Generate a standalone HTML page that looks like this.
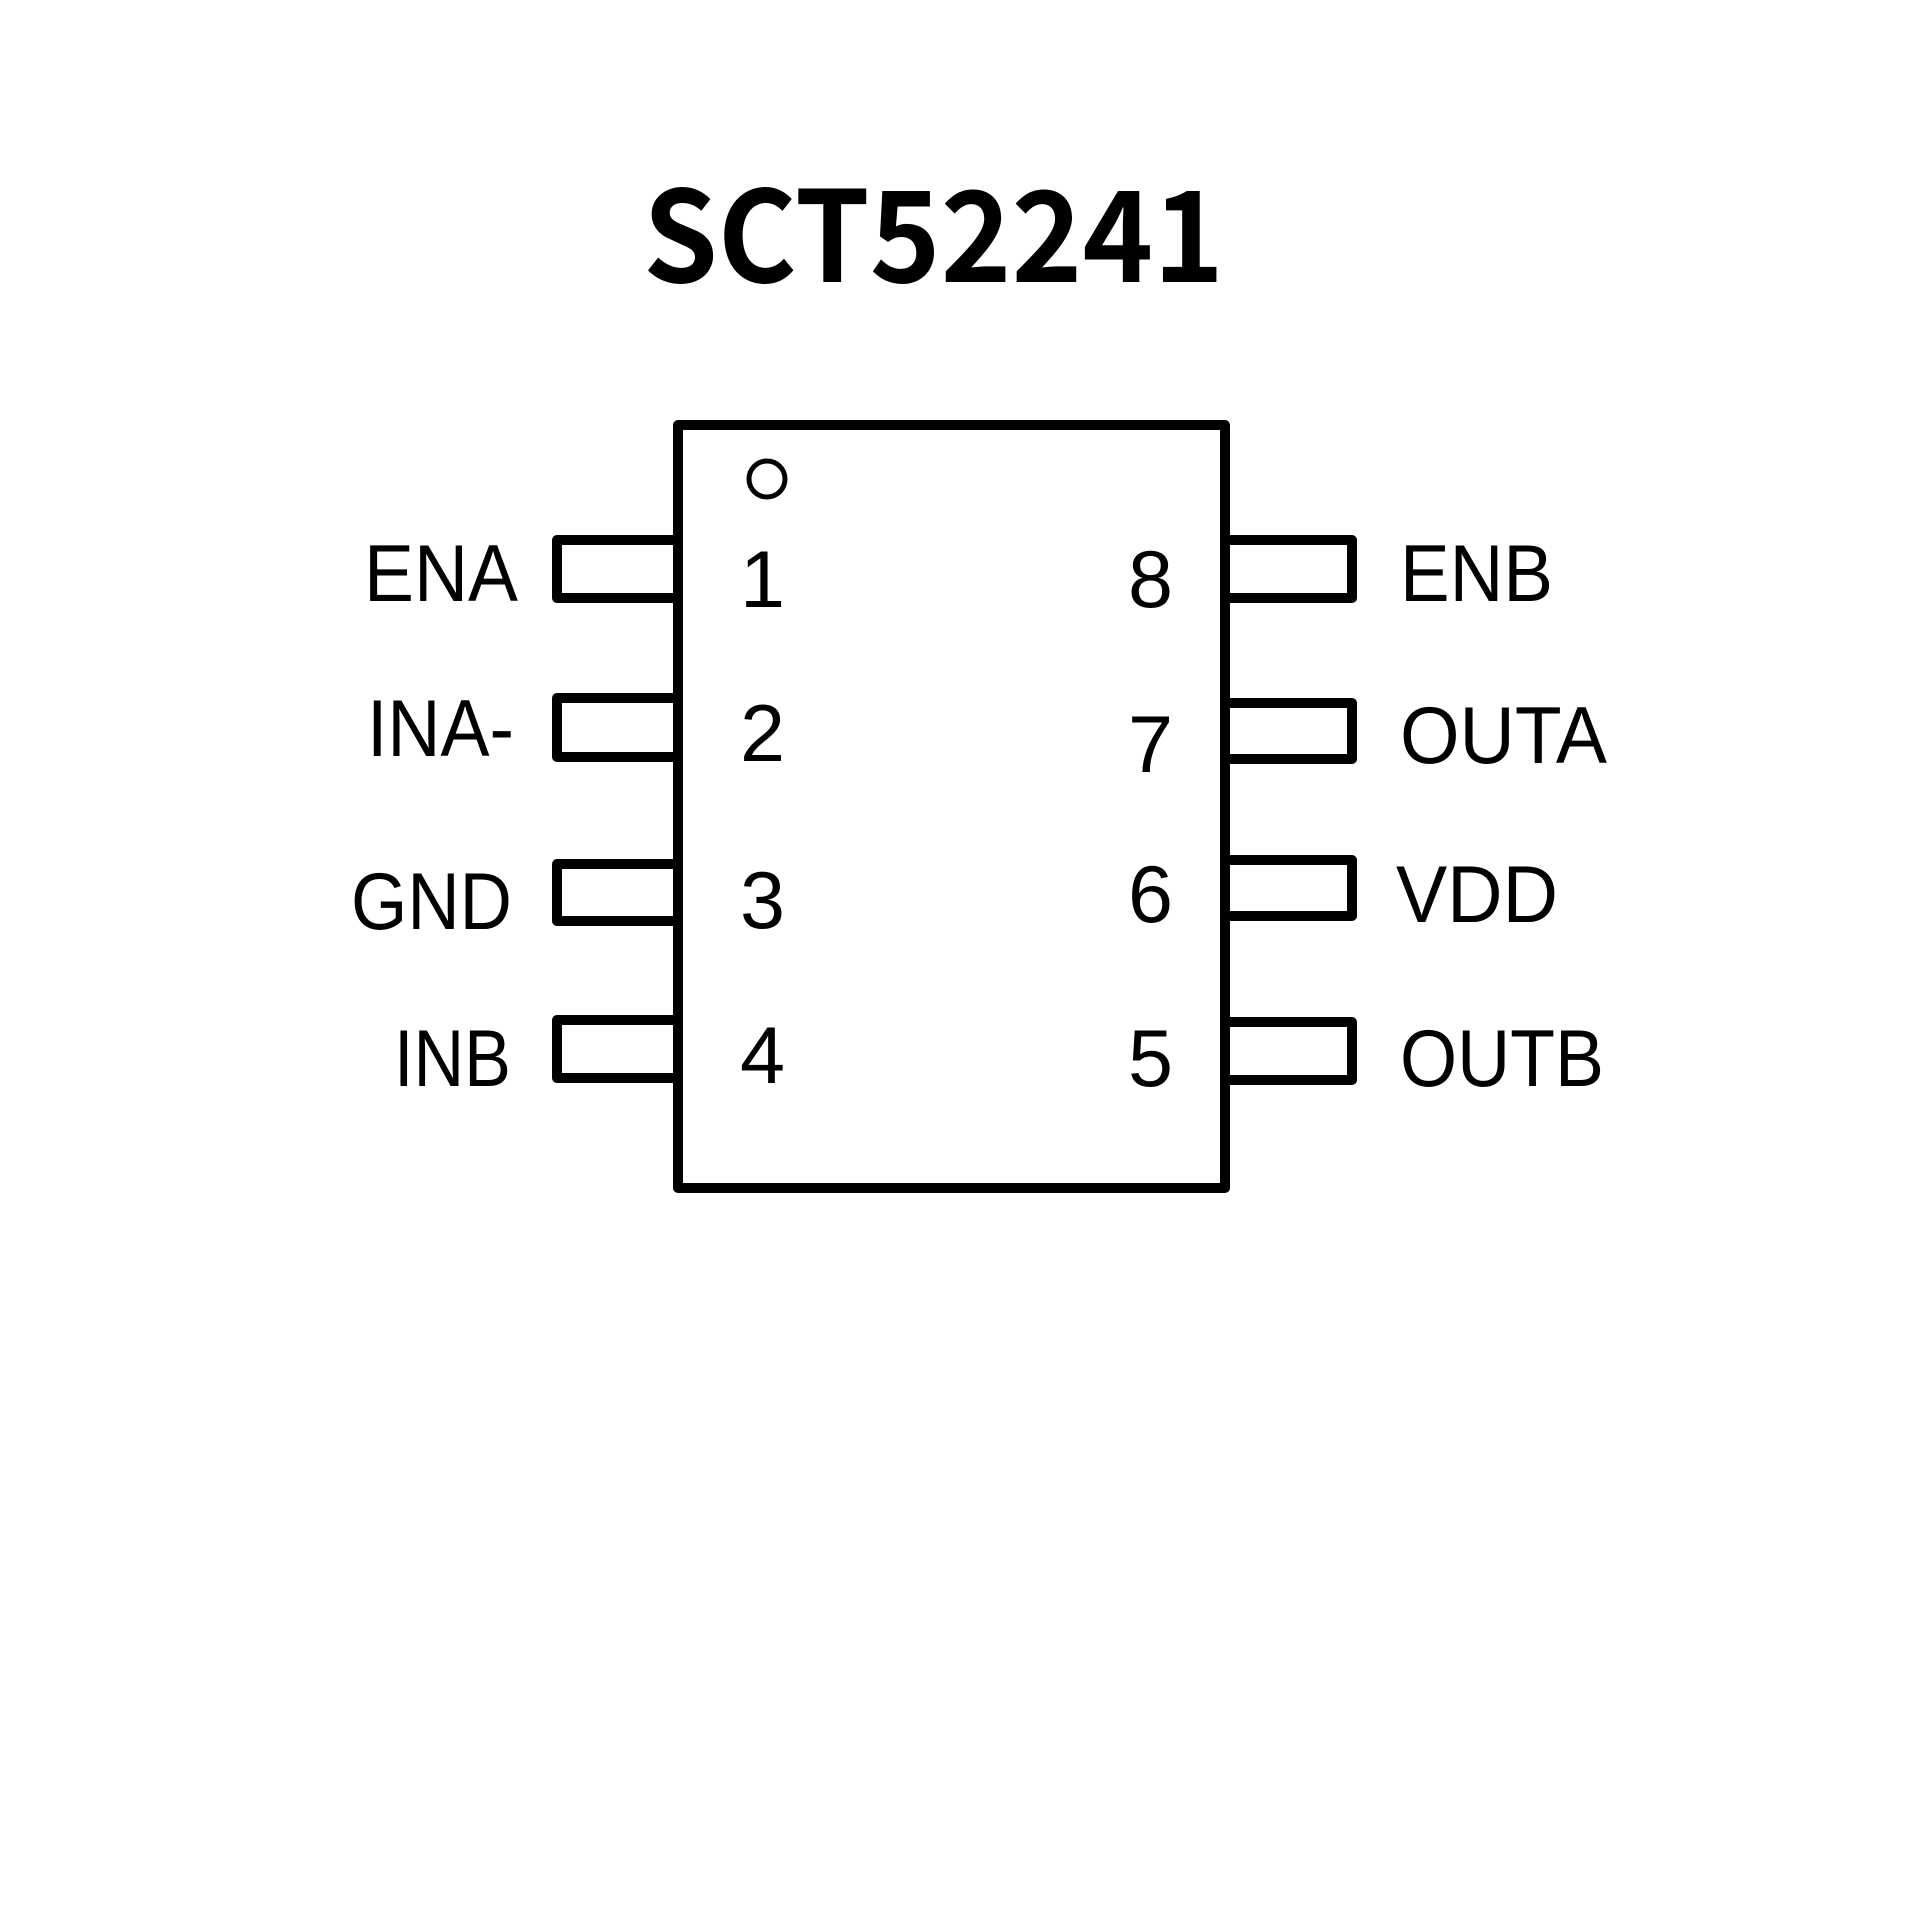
<!DOCTYPE html>
<html><head><meta charset="utf-8"><style>html,body{margin:0;padding:0;background:#fff}</style></head>
<body>
<svg width="1920" height="1920" xmlns="http://www.w3.org/2000/svg">
<rect width="1920" height="1920" fill="#fff"/>
<text x="643" y="282" font-family="Noto Sans CJK SC, DejaVu Sans, sans-serif" font-weight="bold" font-size="126" textLength="581" lengthAdjust="spacingAndGlyphs">SCT52241</text>
<g fill="none" stroke="#000" stroke-width="10" stroke-linejoin="round">
<rect x="678" y="425" width="547" height="763"/>
<rect x="557" y="540" width="121" height="58"/>
<rect x="557" y="698" width="121" height="59"/>
<rect x="557" y="864" width="121" height="57"/>
<rect x="557" y="1020" width="121" height="58"/>
<rect x="1225" y="540" width="127" height="58"/>
<rect x="1225" y="703" width="127" height="56"/>
<rect x="1225" y="860" width="127" height="56"/>
<rect x="1225" y="1022" width="127" height="58"/>
<circle cx="767" cy="479" r="18" stroke-width="5"/>
</g>
<g font-family="Liberation Sans, sans-serif" font-size="81" fill="#000">
<text x="364" y="601" textLength="154" lengthAdjust="spacingAndGlyphs">ENA</text>
<text x="367" y="756" textLength="147" lengthAdjust="spacingAndGlyphs">INA-</text>
<text x="351" y="929" textLength="161" lengthAdjust="spacingAndGlyphs">GND</text>
<text x="394" y="1086" textLength="117" lengthAdjust="spacingAndGlyphs">INB</text>
<text x="1400" y="601" textLength="153" lengthAdjust="spacingAndGlyphs">ENB</text>
<text x="1400" y="763" textLength="207" lengthAdjust="spacingAndGlyphs">OUTA</text>
<text x="1396" y="922" textLength="162" lengthAdjust="spacingAndGlyphs">VDD</text>
<text x="1400" y="1086" textLength="204" lengthAdjust="spacingAndGlyphs">OUTB</text>
<text x="740" y="607">1</text>
<text x="740" y="761">2</text>
<text x="740" y="928">3</text>
<text x="740" y="1083">4</text>
<text x="1128" y="607">8</text>
<text x="1128" y="772">7</text>
<text x="1128" y="922">6</text>
<text x="1128" y="1086">5</text>
</g>
</svg>
</body></html>
